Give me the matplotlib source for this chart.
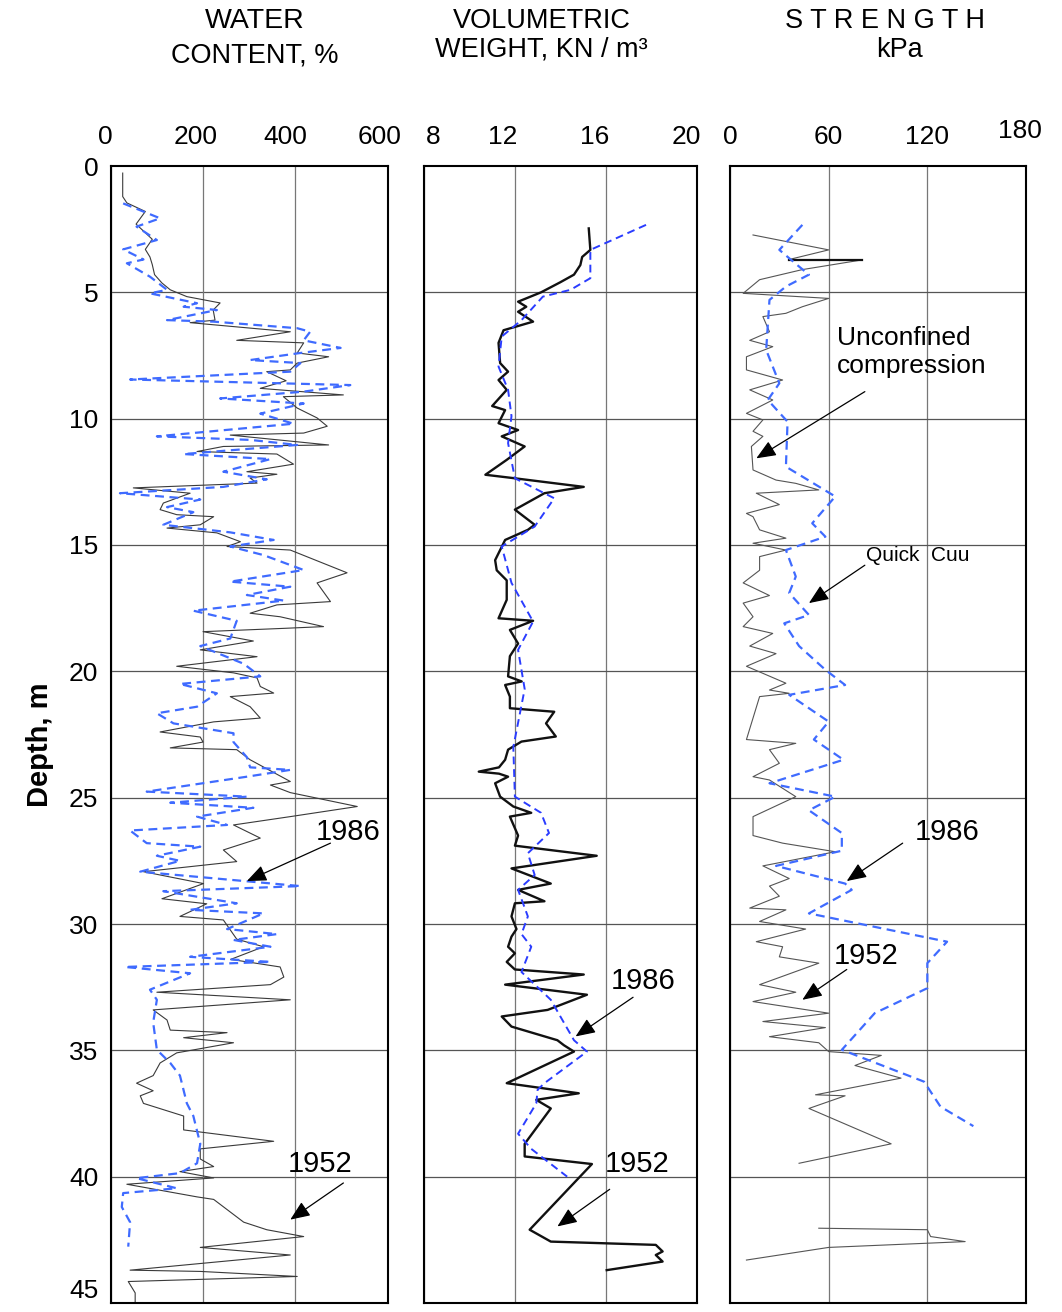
import numpy as np
import matplotlib
matplotlib.use("Agg")
import matplotlib.pyplot as plt
import matplotlib.transforms as mtransforms

plt.rcParams['font.family'] = ['Liberation Sans', 'DejaVu Sans']

nan = np.nan

# ---- water content, % ----
wc52_depth = [0.28, 1.21, 1.46, 1.8, 2.3, 2.9, 3.3, 3.6, 3.9, 4.3, 4.63, 4.9, 5.17, 5.42, 5.7,
              6.1, 6.2, 6.56, 6.9, 7.0, 7.4, 7.55, 7.8, 8.07, 8.14, 8.5, 8.8, 9.06, 9.13, 9.58,
              9.97, 10.3, 10.57, 10.65, 11.04, 11.1, 11.3, 11.4, 11.8, 12.1, 12.2, 12.35, 12.55,
              12.74, 12.95, 13.34, 13.6, 13.8, 13.88, 14.2, 14.33, 14.52, 14.87, 15.06, 15.2,
              16.1, 16.5, 17.24, 17.37, 17.7, 17.84, 18.23, 18.3, 18.43, 18.8, 19.15, 19.42,
              19.8, 20.06, 20.26, 20.6, 20.86, 21.0, 21.4, 21.85, 22.0, 22.4, 22.6, 22.8, 23.03,
              23.1, 23.5, 24.36, 24.5, 24.8, 25.35, 25.75, 26.08, 26.6, 27.07, 27.53, 27.93,
              28.4, 29.0, 29.2, 29.7, 29.84, 30.6, 30.9, 31.4, 31.7, 32.1, 32.4, 32.7, 33.0,
              33.4, 33.8, 34.2, 34.3, 34.5, 34.7, 35.1, 35.5, 36.0, 36.3, 36.6, 36.8, 37.1,
              37.6, 38.15, 38.6, 38.9, 39.3, 39.6, 39.8, 40.05, 40.3, 40.8, 40.9, 41.8, 42.1,
              42.37, 42.8, 43.1, 43.7, 43.75, 43.95, 44.15, 44.6, 45.0]
wc52_value = [26, 26, 35, 75, 55, 90, 75, 85, 90, 95, 111, 129, 165, 237, 222,
              226, 172, 389, 273, 418, 404, 472, 404, 389, 338, 380, 324, 504, 374, 404,
              447, 469, 418, 259, 472, 244, 187, 360, 396, 295, 360, 302, 317,
              49, 172, 114, 107, 143, 223, 194, 122, 230, 281, 252, 389,
              512, 447, 476, 360, 302, 367, 461, 374, 200, 309, 194, 317,
              143, 266, 317, 324, 353, 259, 302, 324, 223, 107, 194, 200, 129,
              273, 302, 389, 346, 389, 534, 389, 266, 324, 244, 273, 71,
              201, 111, 208, 150, 244, 273, 331, 260, 367, 375, 346, 100, 389,
              92, 122, 129, 252, 158, 266, 143, 107, 92, 56, 92, 64, 71,
              158, 158, 353, 194, 194, 223, 150, 223, 35, 187, 223, 288, 338,
              418, 194, 389, 42, 194, 404, 38, 53, 53]

wc86_depth = [1.48, 2.07, 2.4, 2.93, 3.3, 3.7, 3.85, 4.38, 4.9, 5.04, 5.43, 5.57, 5.7, 6.1,
              6.16, 6.42, 6.56, 6.9, 7.2, 7.4, 7.68, 7.8, 8.14, 8.45, 8.67, 8.93, 9.2, 9.4,
              9.8, 10.2, 10.7, 10.84, 11.04, 11.4, 11.6, 12.1, 12.4, 12.7, 12.95, 13.2, 13.5,
              13.7, 14.2, 14.5, 14.8, 15.06, 15.4, 15.99, 16.45, 16.65, 16.98, 17.2, 17.6,
              18.0, 18.7, 19.0, 19.7, 20.2, 20.5, 20.87, 21.4, 21.66, 22.06, 22.45, 22.8,
              23.4, 23.8, 23.9, 24.17, 24.76, 24.96, 25.2, 25.4, 25.75, 26.08, 26.3, 26.8,
              26.94, 27.3, 27.5, 27.93, 28.5, 28.7, 29.18, 29.44, 29.58, 30.2, 30.4, 30.63,
              30.9, 31.3, 31.5, 31.7, 31.95, 32.6, 33.0, 33.9, 34.98, 35.5, 36.0, 37.1, 37.6,
              38.7, 39.47, 39.86, 40.06, 40.46, 40.65, 41.2, 41.8, 42.77]
wc86_value = [27, 107, 56, 100, 27, 71, 35, 85, 122, 85, 187, 158, 230, 122,
              223, 404, 432, 418, 498, 411, 302, 411, 389, 42, 519, 418, 237, 418,
              324, 396, 100, 302, 404, 158, 346, 244, 338, 244, 20, 194, 122,
              179, 114, 259, 353, 259, 331, 418, 259, 389, 295, 375, 179,
              273, 259, 194, 288, 324, 150, 230, 187, 100, 136, 266, 266,
              295, 302, 389, 295, 78, 295, 129, 309, 187, 252, 42, 78,
              194, 100, 150, 64, 411, 114, 273, 172, 331, 252, 360, 266,
              346, 172, 346, 31, 172, 85, 100, 92, 100, 129, 150, 165, 179,
              194, 187, 150, 56, 143, 27, 24, 42, 38]

# ---- volumetric weight, kN/m3 ----
vw52_depth = [2.47, 3.32, 3.6, 3.92, 4.3, 4.6, 5.0, 5.37, 5.57, 5.77, 6.16, 6.5, 7.0, 7.8,
              8.14, 8.47, 8.86, 9.5, 9.66, 10.18, 10.45, 10.7, 11.1, 11.63, 12.22, 12.36,
              12.7, 12.95, 13.6, 14.2, 14.4, 14.8, 15.6, 16.0, 16.4, 17.17, 17.9, 18.0,
              18.36, 18.9, 19.4, 20.2, 20.4, 20.54, 21.0, 21.46, 21.6, 22.06, 22.58, 22.78,
              23.1, 23.5, 23.8, 23.97, 24.05, 24.17, 24.43, 24.96, 25.35, 25.6, 25.75, 26.5,
              26.9, 27.3, 27.8, 28.4, 28.65, 29.1, 29.18, 29.7, 30.2, 30.5, 30.9, 31.16,
              31.5, 31.8, 32.0, 32.4, 32.8, 33.4, 33.66, 34.06, 34.6, 34.8, 35.05, 36.3,
              36.7, 36.96, 37.3, 38.7, 39.2, 39.5, 42.1, 42.57, 42.7, 42.96, 43.1, 43.36, 43.7]
vw52_value = [15.25, 15.32, 14.96, 14.88, 14.6, 14.0, 13.15, 12.14, 12.5, 12.14, 12.8, 11.5,
              11.28, 11.35, 11.7, 11.28, 11.64, 11.0, 11.57, 11.28, 12.14, 11.42, 12.43, 11.64,
              10.7, 12.0, 15.03, 13.3, 12.0, 12.87, 12.57, 11.57, 11.13, 11.2, 11.64, 11.64,
              11.28, 12.8, 11.78, 12.14, 11.78, 11.7, 12.3, 11.57, 11.78, 11.78, 13.73, 13.37,
              13.8, 12.29, 11.7, 11.57, 11.3, 10.41, 11.3, 11.7, 11.13, 11.35, 11.93, 12.72,
              11.78, 12.14, 12.0, 15.6, 11.85, 13.58, 12.14, 13.3, 12.0, 11.85, 12.07, 11.85,
              11.7, 12.0, 11.64, 12.0, 15.03, 11.57, 15.17, 13.44, 11.42, 11.85, 13.87, 14.16,
              14.6, 11.64, 14.81, 12.94, 13.58, 12.43, 12.43, 15.39, 12.65, 13.58, 18.2, 18.5,
              18.2, 18.5, 16.04]

vw86_depth = [2.33, 3.32, 4.44, 4.9, 5.17, 6.1, 6.75, 7.94, 8.86, 9.9, 10.97, 12.36, 13.15,
              14.27, 15.06, 16.5, 18.03, 19.15, 20.7, 23.0, 24.96, 25.6, 26.4, 27.2, 28.06,
              28.65, 29.7, 30.4, 30.9, 31.9, 33.0, 34.6, 35.05, 36.3, 36.56, 37.1, 38.3,
              38.9, 40.0]
vw86_value = [17.77, 15.32, 15.32, 14.45, 13.23, 12.29, 11.42, 11.28, 11.7, 11.85, 11.7, 12.0,
              13.73, 12.87, 11.42, 11.85, 12.8, 12.14, 12.43, 11.93, 12.0, 13.15, 13.5, 12.57,
              12.87, 12.14, 12.57, 12.29, 12.72, 12.29, 13.58, 14.6, 15.17, 13.3, 13.0, 12.94,
              12.14, 12.72, 14.3]

# ---- strength, kPa ----
uc_depth = [2.73, 3.32, 3.7, 3.72, 4.1, 4.5, 5.04, 5.24, 5.57, 5.83, 5.96, 6.56, 6.9, 7.15,
            7.55, 8.07, 8.47, 8.86, 9.26, 9.79, 10.05, 10.5, 10.7, 11.1, 12.03, 12.43, 12.56,
            12.82, 12.95, 13.4, 13.75, 13.88, 14.4, 14.73, 14.93, 15.2, 15.46, 16.0, 16.5,
            17.0, 17.3, 17.84, 18.23, 18.5, 19.0, 19.3, 19.8, 20.47, 20.74, 20.87, 21.0,
            22.7, 22.85, 23.1, 23.64, 24.17, 24.3, 24.96, 25.75, 26.5, 26.8, 27.14, 27.7,
            28.2, 28.5, 28.9, 29.37, 29.44, 29.9, 30.2, 30.7, 30.9, 31.3, 31.55, 32.4, 32.7,
            33.07, 33.53, 33.86, 34.1, 34.46, 34.7, 35.05, 35.2, 35.6, 36.1, 36.76, 36.8,
            37.3, 38.7, 39.47, nan, 42.04, 42.1, 42.37, 42.57, 42.8, 43.3]
uc_value = [14, 60, 36, 80, 44, 18, 8, 60, 44, 34, 20, 24, 12, 26,
            10, 10, 32, 12, 26, 10, 20, 14, 20, 13, 14, 28, 40,
            54, 16, 30, 10, 14, 18, 34, 14, 34, 18, 18, 8,
            24, 8, 14, 8, 26, 12, 28, 10, 34, 24, 36, 18,
            10, 40, 24, 30, 14, 24, 40, 14, 14, 32, 64, 20,
            36, 24, 30, 12, 34, 18, 46, 16, 32, 30, 54, 18, 40,
            14, 60, 20, 58, 24, 54, 60, 92, 76, 104, 52, 70,
            48, 98, 42, nan, 54, 120, 122, 143, 60, 10]
uc_bold_depth = [3.72, 3.72]
uc_bold_value = [36, 80]

cuu_depth = [2.33, 3.32, 3.98, 4.3, 4.77, 5.3, 7.28, 8.6, 9.26, 10.12, 11.9, 13.08, 14.14,
             14.67, 15.2, 16.25, 16.9, 17.77, 18.1, 19.0, 19.94, 20.54, 20.93, 21.99, 22.7,
             23.5, 24.43, 24.96, 25.5, 26.4, 27.1, 27.7, 28.4, 28.65, 29.58, 30.7, 31.55,
             32.54, 33.53, 34.98, 36.24, 37.23, 38.0]
cuu_value = [44, 30, 42, 48, 34, 24, 22, 30, 23, 35, 34, 64, 50,
             58, 34, 40, 36, 48, 33, 42, 58, 70, 36, 60, 51,
             69, 24, 64, 48, 68, 68, 28, 70, 74, 48, 132, 120,
             120, 88, 68, 118, 128, 148]

depth_ticks = [0, 5, 10, 15, 20, 25, 30, 35, 40, 45]

BLUE = '#3f6bff'
FS = 19      # tick labels
FT = 19.5    # titles
FY = 21      # year annotations

fig = plt.figure(figsize=(10.62, 13.12), dpi=100)
W, H = 1062.0, 1312.0
top, bot = 166.0, 1303.0


def make_ax(x0, x1):
    ax = fig.add_axes([x0 / W, 1 - bot / H, (x1 - x0) / W, (bot - top) / H])
    ax.set_ylim(45, 0)
    ax.xaxis.tick_top()
    ax.tick_params(axis='both', length=0, labelsize=FS)
    ax.tick_params(axis='x', pad=12)
    ax.set_yticks(depth_ticks[1:-1])
    ax.yaxis.grid(True, color='#555555', lw=0.9)
    ax.xaxis.grid(True, color='#777777', lw=0.9)
    for s in ax.spines.values():
        s.set_linewidth(1.5)
    return ax


def shift_labels(labels, dx_px):
    for lab, dx in zip(labels, dx_px):
        lab.set_transform(lab.get_transform() +
                          mtransforms.ScaledTranslation(dx / 100.0, 0, fig.dpi_scale_trans))


def arrow(ax, tail, head):
    ax.annotate('', xy=head, xytext=tail,
                arrowprops=dict(arrowstyle='-|>,head_length=0.6,head_width=0.25',
                                color='k', lw=0.9, mutation_scale=20,
                                shrinkA=0, shrinkB=0))


# water content
ax1 = make_ax(110.7, 387.7)
ax1.set_xlim(0, 600)
ax1.set_xticks([0, 200, 400, 600])
ax1.set_yticks(depth_ticks)
ax1.yaxis.grid(False)
for d in depth_ticks[1:-1]:
    ax1.axhline(d, color='#555555', lw=0.9, zorder=0)
ax1.tick_params(axis='y', pad=9)
ax1.get_yticklabels()[-1].set_va('bottom')
shift_labels(ax1.get_xticklabels(), [-5, -7, -10, -8])
ax1.plot(wc52_value, wc52_depth, color='#3a3a3a', lw=0.8)
ax1.plot(wc86_value, wc86_depth, color=BLUE, lw=1.6, ls=(0, (4, 2.5)))
ax1.text(515, 26.36, '1986', fontsize=FY, ha='center', va='center')
arrow(ax1, (476, 26.8), (295, 28.3))
ax1.text(454, 39.5, '1952', fontsize=FY, ha='center', va='center')
arrow(ax1, (504, 40.25), (389, 41.7))

# volumetric weight
ax2 = make_ax(424, 696.7)
ax2.set_xlim(8, 20)
ax2.set_xticks([8, 12, 16, 20])
ax2.set_yticklabels([])
shift_labels(ax2.get_xticklabels(), [9, -12, -11, -10])
ax2.plot(vw52_value, vw52_depth, color='#111111', lw=1.7)
ax2.plot(vw86_value, vw86_depth, color='#2a3cff', lw=1.4, ls=(0, (4, 2.5)))
ax2.text(17.65, 32.25, '1986', fontsize=FY, ha='center', va='center')
arrow(ax2, (17.2, 32.9), (14.67, 34.45))
ax2.text(17.38, 39.5, '1952', fontsize=FY, ha='center', va='center')
arrow(ax2, (16.17, 40.5), (13.87, 41.97))

# strength
ax3 = make_ax(730, 1026)
ax3.set_xlim(0, 178)
ax3.set_xticks([0, 60, 120, 180])
ax3.set_xticklabels(['0', '60', '120', ''])
ax3.text(0.98, 0.031, '180', transform=ax3.transAxes +
         mtransforms.ScaledTranslation(0, 1.0, fig.dpi_scale_trans) +
         mtransforms.ScaledTranslation(0, 0, fig.dpi_scale_trans),
         fontsize=FS, ha='center', va='center')
ax3.texts[-1].set_transform(ax3.transAxes)
ax3.texts[-1].set_position((0.98, 1 + 35 / 1137.0))
ax3.set_yticklabels([])
ax3.plot(uc_value, uc_depth, color='#555555', lw=0.8)
ax3.plot(uc_bold_value, uc_bold_depth, color='#111111', lw=1.6)
ax3.plot(cuu_value, cuu_depth, color=BLUE, lw=1.6, ls=(0, (4, 2.5)))
ax3.text(64.8, 7.36, 'Unconfined\ncompression', fontsize=19, ha='left', va='center',
         linespacing=1.2)
arrow(ax3, (82, 8.93), (16, 11.57))
ax3.text(82.8, 15.4, 'Quick  Cuu', fontsize=15, ha='left', va='center')
arrow(ax3, (82, 15.8), (48, 17.3))
ax3.text(132, 26.36, '1986', fontsize=FY, ha='center', va='center')
arrow(ax3, (105, 26.8), (71, 28.3))
ax3.text(82.8, 31.26, '1952', fontsize=FY, ha='center', va='center')
arrow(ax3, (71, 31.8), (44, 33.0))

# titles
fig.text(255 / W, 1 - 21 / H, 'WATER', fontsize=FT + 1, ha='center', va='center')
fig.text(255 / W, 1 - 55 / H, 'CONTENT, %', fontsize=FT, ha='center', va='center')
fig.text(542 / W, 1 - 21 / H, 'VOLUMETRIC', fontsize=FT, ha='center', va='center')
fig.text(541 / W, 1 - 49 / H, 'WEIGHT, KN / m³', fontsize=FT, ha='center', va='center')
fig.text(885 / W, 1 - 21 / H, 'S T R E N G T H', fontsize=FT, ha='center', va='center')
fig.text(900 / W, 1 - 50 / H, 'kPa', fontsize=FT, ha='center', va='center')
fig.text(40 / W, 1 - 745 / H, 'Depth, m', fontsize=21, fontweight='bold', rotation=90,
         ha='center', va='center')

fig.savefig('out.png', dpi=100)
